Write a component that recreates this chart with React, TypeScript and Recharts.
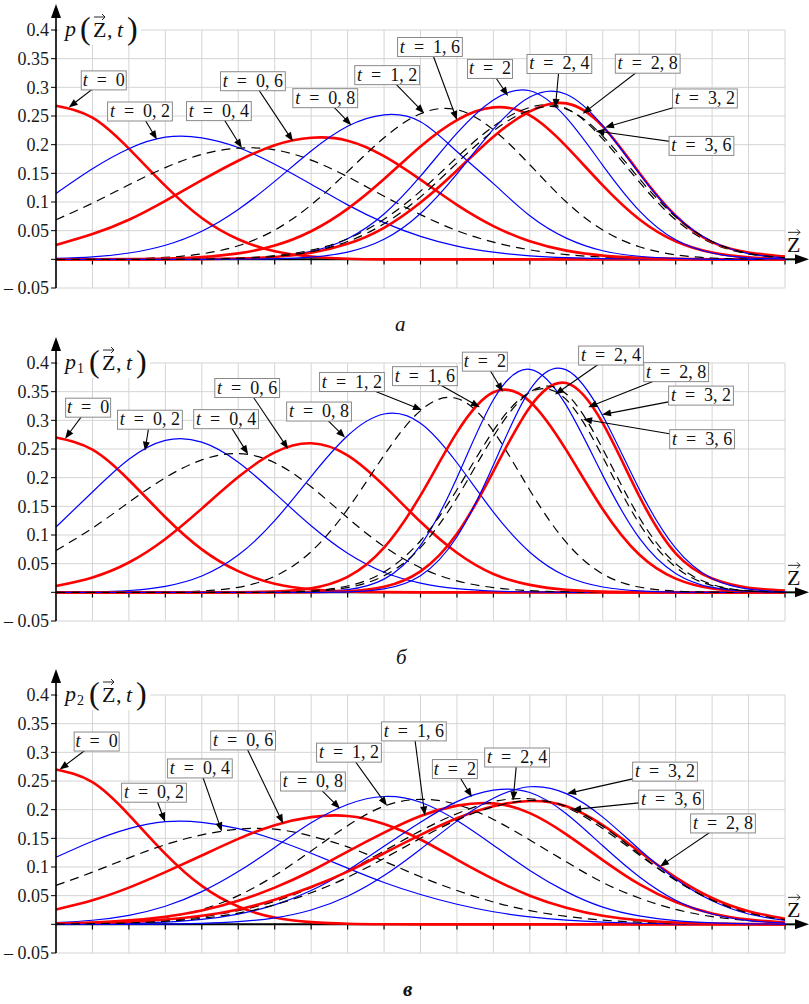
import React from 'react';
import { LineChart, Line, XAxis, YAxis, CartesianGrid, ReferenceLine, ReferenceDot } from 'recharts';

// grid positions along Z (one per vertical grid line) and the p ticks
const zGrid = [0, 1, 2, 3, 4, 5, 6, 7, 8, 9, 10, 11, 12, 13, 14, 15, 16, 17, 18, 19, 20];
const pTicks = [-0.05, 0, 0.05, 0.1, 0.15, 0.2, 0.25, 0.3, 0.35, 0.4];
const tNames = ['0', '0, 2', '0, 4', '0, 6', '0, 8', '1, 2', '1, 6', '2', '2, 4', '2, 8', '3, 2', '3, 6'];

// panel а : p(Z,t)
const pA_0 = [0.268, 0.247, 0.193, 0.128, 0.072, 0.035, 0.014, 0.005, 0.001, 0, 0, 0, 0, 0, 0, 0, 0, 0, 0, 0, 0];
const pA_02 = [0.115, 0.158, 0.193, 0.213, 0.212, 0.195, 0.166, 0.131, 0.095, 0.064, 0.04, 0.023, 0.0125, 0.0062, 0.0029, 0.0012, 0.0005, 0, 0, 0, 0];
const pA_04 = [0.069, 0.098, 0.13, 0.16, 0.183, 0.194, 0.191, 0.173, 0.144, 0.11, 0.078, 0.05, 0.03, 0.0165, 0.0083, 0.0039, 0.0017, 0.0007, 0.0002, 0, 0];
const pA_06 = [0.025, 0.044, 0.069, 0.102, 0.138, 0.172, 0.199, 0.212, 0.207, 0.18, 0.139, 0.095, 0.058, 0.0315, 0.0152, 0.0065, 0.0025, 0.0008, 0, 0, 0];
const pA_08 = [0.0015, 0.0043, 0.011, 0.0246, 0.049, 0.087, 0.136, 0.189, 0.232, 0.252, 0.24, 0.188, 0.132, 0.076, 0.037, 0.015, 0.0054, 0.0016, 0, 0, 0];
const pA_12 = [0, 0.0002, 0.001, 0.0033, 0.0095, 0.0237, 0.051, 0.095, 0.153, 0.212, 0.254, 0.261, 0.226, 0.165, 0.1, 0.051, 0.022, 0.0079, 0.0023, 0.0006, 0];
const pA_16 = [0, 0.0001, 0.0004, 0.0013, 0.004, 0.0104, 0.024, 0.049, 0.088, 0.14, 0.197, 0.243, 0.265, 0.251, 0.197, 0.129, 0.07, 0.0315, 0.0118, 0.0037, 0.001];
const pA_2 = [0, 0, 0, 0, 0.0003, 0.0012, 0.0044, 0.0138, 0.036, 0.079, 0.145, 0.22, 0.278, 0.294, 0.247, 0.164, 0.085, 0.034, 0.011, 0.0027, 0.0005];
const pA_24 = [0, 0, 0, 0.0002, 0.0007, 0.0022, 0.0063, 0.016, 0.036, 0.07, 0.119, 0.178, 0.232, 0.265, 0.263, 0.21, 0.135, 0.069, 0.028, 0.0094, 0.0025];
const pA_28 = [0, 0, 0, 0, 0.0004, 0.0014, 0.0042, 0.0114, 0.027, 0.055, 0.099, 0.155, 0.214, 0.258, 0.272, 0.232, 0.151, 0.076, 0.03, 0.012, 0.005];
const pA_32 = [0, 0, 0, 0, 0, 0.0002, 0.0009, 0.0037, 0.0127, 0.035, 0.08, 0.149, 0.227, 0.283, 0.288, 0.233, 0.15, 0.076, 0.031, 0.0099, 0.0025];
const pA_36 = [0, 0, 0, 0, 0.0005, 0.0016, 0.005, 0.0133, 0.031, 0.062, 0.109, 0.168, 0.224, 0.26, 0.262, 0.215, 0.141, 0.074, 0.031, 0.0104, 0.0028];

// panel б : p1(Z,t)
const pB_0 = [0.27, 0.249, 0.196, 0.131, 0.075, 0.037, 0.015, 0.0053, 0.0016, 0.0004, 0, 0, 0, 0, 0, 0, 0, 0, 0, 0, 0];
const pB_02 = [0.114, 0.175, 0.232, 0.265, 0.262, 0.227, 0.173, 0.116, 0.068, 0.035, 0.016, 0.0064, 0.0023, 0.0007, 0, 0, 0, 0, 0, 0, 0];
const pB_04 = [0.073, 0.112, 0.157, 0.2, 0.231, 0.242, 0.226, 0.184, 0.13, 0.08, 0.043, 0.02, 0.0083, 0.0029, 0.0009, 0, 0, 0, 0, 0, 0];
const pB_06 = [0.011, 0.026, 0.052, 0.093, 0.146, 0.201, 0.244, 0.26, 0.239, 0.186, 0.123, 0.069, 0.032, 0.013, 0.0044, 0.0013, 0.0003, 0, 0, 0, 0];
const pB_08 = [0.0002, 0.0008, 0.0032, 0.0105, 0.0285, 0.065, 0.125, 0.202, 0.273, 0.311, 0.295, 0.226, 0.14, 0.07, 0.028, 0.0093, 0.0025, 0.0005, 0, 0, 0];
const pB_12 = [0, 0, 0.0001, 0.0005, 0.0022, 0.0088, 0.028, 0.071, 0.145, 0.239, 0.317, 0.338, 0.281, 0.178, 0.087, 0.032, 0.0093, 0.002, 0.0003, 0, 0];
const pB_16 = [0, 0, 0, 0, 0, 0.0002, 0.0014, 0.0071, 0.027, 0.078, 0.169, 0.279, 0.349, 0.333, 0.248, 0.145, 0.066, 0.024, 0.0067, 0.0015, 0.0003];
const pB_2 = [0, 0, 0, 0, 0, 0, 0.0001, 0.0006, 0.0046, 0.023, 0.082, 0.2, 0.336, 0.389, 0.326, 0.204, 0.095, 0.033, 0.0085, 0.0016, 0.0002];
const pB_24 = [0, 0, 0, 0, 0, 0.0001, 0.0005, 0.0027, 0.011, 0.0355, 0.09, 0.179, 0.282, 0.349, 0.336, 0.236, 0.12, 0.044, 0.0118, 0.0023, 0.0003];
const pB_28 = [0, 0, 0, 0, 0, 0, 0, 0.0003, 0.0019, 0.0096, 0.0365, 0.102, 0.211, 0.323, 0.365, 0.295, 0.168, 0.068, 0.024, 0.008, 0.003];
const pB_32 = [0, 0, 0, 0, 0, 0, 0, 0.0001, 0.0009, 0.006, 0.029, 0.097, 0.222, 0.353, 0.388, 0.308, 0.18, 0.077, 0.024, 0.0056, 0.001];
const pB_36 = [0, 0, 0, 0, 0, 0, 0.0003, 0.0018, 0.0082, 0.029, 0.078, 0.165, 0.272, 0.349, 0.346, 0.25, 0.131, 0.05, 0.0137, 0.0027, 0.0004];

// panel в : p2(Z,t)
const pC_0 = [0.27, 0.248, 0.191, 0.123, 0.067, 0.031, 0.0118, 0.0038, 0.001, 0.0002, 0, 0, 0, 0, 0, 0, 0, 0, 0, 0, 0];
const pC_02 = [0.117, 0.145, 0.167, 0.179, 0.178, 0.167, 0.148, 0.124, 0.098, 0.073, 0.052, 0.035, 0.022, 0.013, 0.0073, 0.0039, 0.0019, 0.0009, 0.0004, 0.0002, 0];
const pC_04 = [0.068, 0.091, 0.116, 0.139, 0.156, 0.166, 0.166, 0.154, 0.135, 0.11, 0.083, 0.059, 0.039, 0.024, 0.0139, 0.0074, 0.0037, 0.0017, 0.0008, 0.0003, 0.0001];
const pC_06 = [0.026, 0.042, 0.064, 0.091, 0.12, 0.149, 0.173, 0.187, 0.189, 0.175, 0.148, 0.113, 0.079, 0.05, 0.029, 0.015, 0.0071, 0.0031, 0.0012, 0.0005, 0.0002];
const pC_08 = [0.0029, 0.0071, 0.0157, 0.0315, 0.057, 0.092, 0.134, 0.177, 0.209, 0.223, 0.213, 0.181, 0.138, 0.094, 0.057, 0.03, 0.0147, 0.0063, 0.0024, 0.0008, 0.0003];
const pC_12 = [0.0006, 0.0019, 0.0051, 0.0122, 0.026, 0.05, 0.085, 0.128, 0.172, 0.206, 0.218, 0.209, 0.183, 0.147, 0.109, 0.073, 0.046, 0.026, 0.0135, 0.0065, 0.0028];
const pC_16 = [0.0015, 0.0033, 0.0069, 0.0133, 0.024, 0.041, 0.064, 0.093, 0.127, 0.16, 0.189, 0.207, 0.211, 0.194, 0.157, 0.112, 0.07, 0.039, 0.019, 0.0083, 0.0032];
const pC_2 = [0.0002, 0.0005, 0.0015, 0.0037, 0.0085, 0.0179, 0.034, 0.059, 0.094, 0.136, 0.178, 0.214, 0.234, 0.23, 0.193, 0.137, 0.083, 0.042, 0.018, 0.0066, 0.002];
const pC_24 = [0.0006, 0.0014, 0.0032, 0.0066, 0.013, 0.024, 0.04, 0.064, 0.093, 0.128, 0.163, 0.193, 0.214, 0.219, 0.204, 0.167, 0.121, 0.077, 0.043, 0.021, 0.0094];
const pC_28 = [0.0009, 0.0021, 0.0043, 0.0083, 0.015, 0.026, 0.043, 0.065, 0.092, 0.124, 0.156, 0.185, 0.206, 0.215, 0.206, 0.173, 0.127, 0.082, 0.046, 0.023, 0.0098];
const pC_32 = [0, 0, 0.0001, 0.0005, 0.0017, 0.0046, 0.0114, 0.025, 0.049, 0.085, 0.131, 0.18, 0.22, 0.24, 0.228, 0.187, 0.131, 0.079, 0.041, 0.018, 0.0068];
const pC_36 = [0.0004, 0.0011, 0.0024, 0.0053, 0.0105, 0.0196, 0.034, 0.055, 0.082, 0.115, 0.15, 0.182, 0.205, 0.216, 0.206, 0.171, 0.123, 0.077, 0.042, 0.0195, 0.008];

const panelA = [pA_0, pA_02, pA_04, pA_06, pA_08, pA_12, pA_16, pA_2, pA_24, pA_28, pA_32, pA_36];
const panelB = [pB_0, pB_02, pB_04, pB_06, pB_08, pB_12, pB_16, pB_2, pB_24, pB_28, pB_32, pB_36];
const panelC = [pC_0, pC_02, pC_04, pC_06, pC_08, pC_12, pC_16, pC_2, pC_24, pC_28, pC_32, pC_36];

// label arrows: tip on the curve (z, p), box centre offset in px
const notesA = [
  { t: 0, z: 0.35, p: 0.265, dx: 35, dy: -27 },
  { t: 1, z: 2.77, p: 0.209, dx: -17, dy: -28 },
  { t: 2, z: 5.1, p: 0.194, dx: -23, dy: -37 },
  { t: 3, z: 6.5, p: 0.206, dx: -40, dy: -60 },
  { t: 4, z: 8.1, p: 0.234, dx: -26, dy: -27 },
  { t: 5, z: 10.1, p: 0.255, dx: -37, dy: -38 },
  { t: 6, z: 11, p: 0.243, dx: -27, dy: -73 },
  { t: 7, z: 12.4, p: 0.285, dx: -18, dy: -27 },
  { t: 8, z: 13.7, p: 0.264, dx: 4, dy: -44 },
  { t: 9, z: 14.45, p: 0.254, dx: 65, dy: -50 },
  { t: 10, z: 15.06, p: 0.23, dx: 100, dy: -29 },
  { t: 11, z: 14.8, p: 0.224, dx: 106, dy: 15 },
];
const notesB = [
  { t: 0, z: 0.25, p: 0.268, dx: 23, dy: -31 },
  { t: 1, z: 2.44, p: 0.247, dx: 5, dy: -31 },
  { t: 2, z: 5.27, p: 0.241, dx: -22, dy: -35 },
  { t: 3, z: 6.37, p: 0.25, dx: -41, dy: -61 },
  { t: 4, z: 7.93, p: 0.27, dx: -26, dy: -26 },
  { t: 5, z: 10.04, p: 0.318, dx: -70, dy: -28 },
  { t: 6, z: 11.63, p: 0.323, dx: -55, dy: -31 },
  { t: 7, z: 12.26, p: 0.35, dx: -18, dy: -30 },
  { t: 8, z: 13.69, p: 0.345, dx: 56, dy: -39 },
  { t: 9, z: 14.6, p: 0.323, dx: 88, dy: -35 },
  { t: 10, z: 14.98, p: 0.31, dx: 99, dy: -19 },
  { t: 11, z: 14.46, p: 0.302, dx: 119, dy: 20 },
];
const notesC = [
  { t: 0, z: 0.1, p: 0.27, dx: 37, dy: -28 },
  { t: 1, z: 2.99, p: 0.179, dx: -11, dy: -29 },
  { t: 2, z: 4.55, p: 0.162, dx: -22, dy: -63 },
  { t: 3, z: 6.23, p: 0.176, dx: -40, dy: -83 },
  { t: 4, z: 7.79, p: 0.202, dx: -27, dy: -27 },
  { t: 5, z: 9.08, p: 0.207, dx: -38, dy: -53 },
  { t: 6, z: 10.12, p: 0.19, dx: -11, dy: -84 },
  { t: 7, z: 11.41, p: 0.222, dx: -17, dy: -28 },
  { t: 8, z: 12.54, p: 0.216, dx: 4, dy: -43 },
  { t: 10, z: 14.02, p: 0.228, dx: 98, dy: -22 },
  { t: 11, z: 14.16, p: 0.2, dx: 99, dy: -10 },
  { t: 9, z: 16.57, p: 0.101, dx: 63, dy: -43 },
];

const SERIF = "'Liberation Serif', 'Times New Roman', Times, 'DejaVu Serif', serif";
const styles = [
  { stroke: '#ff0000', strokeWidth: 2.6 },
  { stroke: '#0000ff', strokeWidth: 1.2 },
  { stroke: '#000000', strokeWidth: 1.2, strokeDasharray: '9 6' },
];

function Note({ cx, cy, name, dx, dy }: any) {
  const bx = cx + dx;
  const by = cy + dy;
  const label = 't = ' + name;
  const w = 12 + 6.6 * label.length;
  const h = 19;
  const a = Math.atan2(cy - by, cx - bx);
  const c = Math.cos(a);
  const s = Math.sin(a);
  const L = 9;
  const W = 3.5;
  const hx = cx - L * c;
  const hy = cy - L * s;
  return (
    <g>
      <line x1={bx} y1={by} x2={hx + 1 * c} y2={hy + 1 * s} stroke="#000" strokeWidth={1.1} />
      <polygon points={`${cx},${cy} ${hx + W * s},${hy - W * c} ${hx - W * s},${hy + W * c}`} fill="#000" />
      <rect x={bx - w / 2} y={by - h / 2} width={w} height={h} fill="#fff" stroke="#8a8a8a" strokeWidth={1} />
      <text x={bx} y={by + 5.5} textAnchor="middle" style={{ fontFamily: SERIF, fontSize: 18 }} fill="#111">
        <tspan fontStyle="italic">t</tspan>
        <tspan>{'\u2002=\u2002' + name}</tspan>
      </text>
    </g>
  );
}

function PLabel({ cx, cy, sub }: any) {
  const k = sub ? 9 : 0;
  const zx = cx + 37 + k;
  return (
    <g style={{ fontFamily: SERIF }} fill="#111">
      <rect x={cx + 3} y={cy - 17} width={82 + k} height={32} fill="#fff" />
      <line x1={cx} y1={cy + 1} x2={cx} y2={cy - 14} stroke="#000" strokeWidth={1.6} />
      <polygon points={`${cx},${cy - 26} ${cx - 5},${cy - 12} ${cx + 5},${cy - 12}`} fill="#000" />
      <text x={cx + 9} y={cy + 6} fontSize={22} fontStyle="italic">p</text>
      {sub ? <text x={cx + 21} y={cy + 10} fontSize={14}>{sub}</text> : null}
      <text x={cx + 24 + k} y={cy + 9} fontSize={32}>(</text>
      <text x={zx} y={cy + 7} fontSize={22}>Z</text>
      <path d={`M${zx + 1},${cy - 13} L${zx + 12},${cy - 13} M${zx + 9},${cy - 16} L${zx + 12},${cy - 13} L${zx + 9},${cy - 10}`} stroke="#111" strokeWidth={0.9} fill="none" />
      <text x={cx + 51 + k} y={cy + 7} fontSize={22}>,</text>
      <text x={cx + 61 + k} y={cy + 7} fontSize={22} fontStyle="italic">t</text>
      <text x={cx + 71 + k} y={cy + 9} fontSize={32}>)</text>
    </g>
  );
}

function ZArrow({ cx, cy }: any) {
  return (
    <g style={{ fontFamily: SERIF }} fill="#111">
      <line x1={cx} y1={cy} x2={cx + 12} y2={cy} stroke="#000" strokeWidth={2} />
      <polygon points={`${cx + 24},${cy} ${cx + 10},${cy - 5} ${cx + 10},${cy + 5}`} fill="#000" />
      <text x={cx + 2} y={cy - 7} fontSize={22}>Z</text>
      <path d={`M${cx + 3},${cy - 27} L${cx + 15},${cy - 27} M${cx + 12},${cy - 30} L${cx + 15},${cy - 27} L${cx + 12},${cy - 24}`} stroke="#111" strokeWidth={0.9} fill="none" />
    </g>
  );
}

function Panel({ series, notes, sub, top }: any) {
  const rows = zGrid.map((z, i) => {
    const row: any = { z };
    series.forEach((s: number[], j: number) => {
      row['c' + j] = s[i];
    });
    return row;
  });
  return (
    <div style={{ position: 'absolute', left: 0, top }}>
      <LineChart width={809} height={310} data={rows} margin={{ top: 30, right: 24, left: 6, bottom: 22 }}>
        <CartesianGrid stroke="#d4d4d4" strokeWidth={1} />
        <XAxis dataKey="z" type="number" domain={[0, 20]} ticks={zGrid} hide />
        <YAxis
          type="number"
          domain={[-0.05, 0.4]}
          ticks={pTicks}
          interval={0}
          width={50}
          tickSize={5}
          tickMargin={2}
          axisLine={{ stroke: '#000', strokeWidth: 1.6 }}
          tickLine={{ stroke: '#000' }}
          tick={{ fontSize: 18, fontFamily: SERIF, fill: '#1a1a1a' }}
          tickFormatter={(v: number) => (v === 0 ? '' : v < 0 ? '\u2013 0.05' : String(v))}
        />
        <ReferenceLine y={0} stroke="#000" strokeWidth={2} />
        {zGrid.slice(1).map((z) => (
          <ReferenceLine key={'tk' + z} segment={[{ x: z, y: -0.009 }, { x: z, y: 0.002 }]} stroke="#000" strokeWidth={1.2} />
        ))}
        {series.map((_: number[], j: number) => (
          <Line
            key={j}
            dataKey={'c' + j}
            type="natural"
            dot={false}
            activeDot={false}
            isAnimationActive={false}
            {...styles[j % 3]}
          />
        ))}
        <ReferenceDot x={0} y={0.4} r={0} ifOverflow="visible" shape={(p: any) => <PLabel cx={p.cx} cy={p.cy} sub={sub} />} />
        <ReferenceDot x={20} y={0} r={0} ifOverflow="visible" shape={(p: any) => <ZArrow cx={p.cx} cy={p.cy} />} />
        {notes.map((n: any, i: number) => (
          <ReferenceDot
            key={'n' + i}
            x={n.z}
            y={n.p}
            r={0}
            ifOverflow="visible"
            shape={(p: any) => <Note cx={p.cx} cy={p.cy} name={tNames[n.t]} dx={n.dx} dy={n.dy} />}
          />
        ))}
      </LineChart>
    </div>
  );
}

const cap: React.CSSProperties = {
  position: 'absolute',
  fontFamily: SERIF,
  fontStyle: 'italic',
  fontSize: 21,
  color: '#111',
  lineHeight: '20px',
};

export default function App() {
  return (
    <div style={{ position: 'absolute', left: 0, top: 0, width: 809, height: 1004, background: '#fff', overflow: 'hidden' }}>
      <Panel series={panelA} notes={notesA} sub="" top={0} />
      <Panel series={panelB} notes={notesB} sub="1" top={333} />
      <Panel series={panelC} notes={notesC} sub="2" top={665} />
      <div style={{ ...cap, left: 395, top: 314 }}>а</div>
      <div style={{ ...cap, left: 396, top: 647 }}>б</div>
      <div style={{ ...cap, left: 403, top: 979, fontWeight: 'bold' }}>в</div>
    </div>
  );
}
